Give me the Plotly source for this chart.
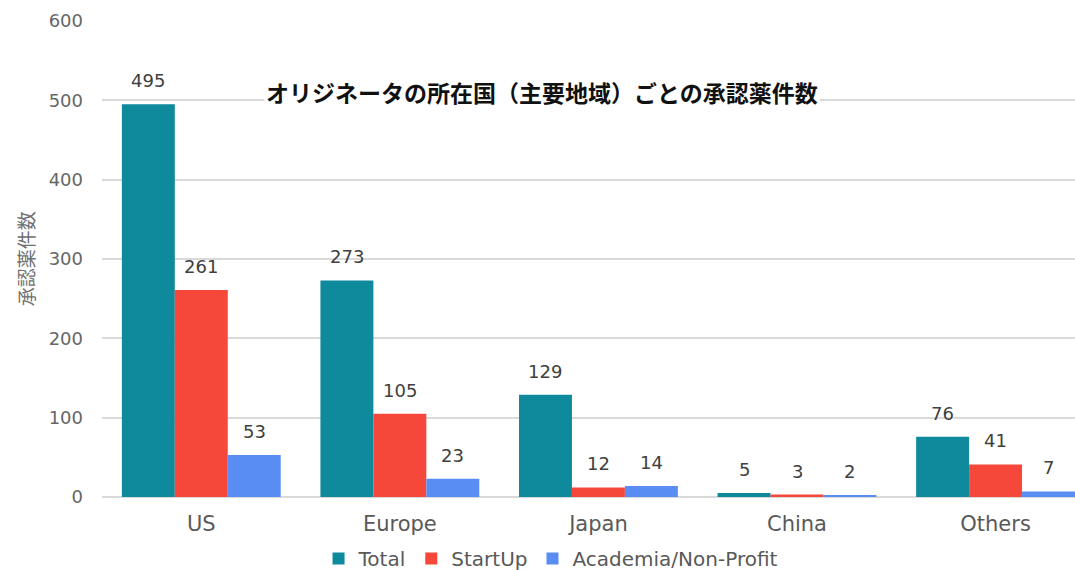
import plotly.graph_objects as go

regions = ["US", "Europe", "Japan", "China", "Others"]
total = [495, 273, 129, 5, 76]
startup = [261, 105, 12, 3, 41]
academia = [53, 23, 14, 2, 7]

series_names = ["Total", "StartUp", "Academia/Non-Profit"]
series_colors = ["#0F8A9D", "#F6483A", "#5A8DF4"]

title_text = "オリジネータの所在国（主要地域）ごとの承認薬件数"
y_title = "承認薬件数"
y_ticks = [0, 100, 200, 300, 400, 500, 600]

latin = "DejaVu Sans, Noto Sans CJK JP, sans-serif"
cjk = "Noto Sans CJK JP, sans-serif"
fig = go.Figure()

series = [total, startup, academia]
for name, vals, color in zip(series_names, series, series_colors):
    fig.add_trace(go.Bar(
        name=name, x=regions, y=vals,
        marker=dict(color=color, line=dict(width=0)),
        cliponaxis=False,
    ))

# value labels above each bar
bar_group = 0.80
n = len(series)
bw = bar_group / n
for i, vals in enumerate(series):
    off = -bar_group / 2 + bw * (i + 0.5)
    for j, v in enumerate(vals):
        fig.add_annotation(
            x=j + off, y=v, xref="x", yref="y",
            text=str(v), showarrow=False,
            yanchor="bottom", yshift=11,
            font=dict(family=latin, size=18, color="#404040"),
        )

fig.add_annotation(
    x=0.452, y=500, xref="paper", yref="y",
    text="<b>" + title_text + "</b>", showarrow=False,
    yanchor="middle", yshift=8,
    bgcolor="white", borderpad=1,
    font=dict(family=cjk, size=23, color="#111111"),
)

# vertical axis caption
fig.add_annotation(
    x=-0.079, y=0.50, xref="paper", yref="paper",
    text=y_title, showarrow=False, textangle=-90,
    xanchor="center", yanchor="middle",
    font=dict(family=cjk, size=19, color="#707070"),
)

fig.update_layout(
    width=1075, height=570,
    margin=dict(l=102, r=0, t=21, b=73, autoexpand=False),
    paper_bgcolor="white", plot_bgcolor="white",
    barmode="group", bargap=0.20, bargroupgap=0,
    showlegend=True,
    legend=dict(
        orientation="h", x=0.461, xanchor="center", y=-0.088, yanchor="top",
        font=dict(family=latin, size=20, color="#595959"),
        tracegroupgap=0,
    ),
    xaxis=dict(
        range=[-0.5, 4.40], showgrid=False, showline=False, ticks="",
        tickfont=dict(family=latin, size=21, color="#595959"),
        ticklabelstandoff=12,
    ),
    yaxis=dict(
        range=[0, 600], tickvals=y_ticks, showgrid=True,
        gridcolor="#D9D9D9", gridwidth=1.5, zeroline=True,
        zerolinecolor="#D9D9D9", zerolinewidth=1.5,
        tickfont=dict(family=latin, size=18, color="#666666"),
        ticklabelstandoff=18,
    ),
)

fig.write_html("out.html")
